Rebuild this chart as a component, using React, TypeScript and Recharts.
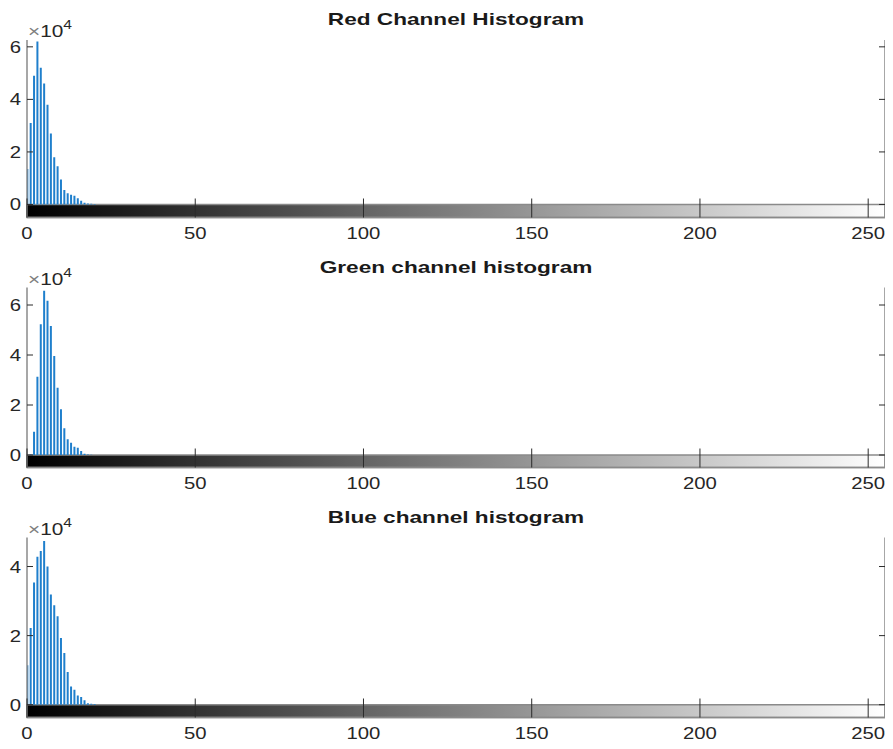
import { Bar, ComposedChart, ReferenceArea, XAxis, YAxis } from 'recharts';

// intensity bins that hold any pixels (everything above bin 20 is empty)
const bins = [0, 1, 2, 3, 4, 5, 6, 7, 8, 9, 10, 11, 12, 13, 14, 15, 16, 17, 18, 19, 20];

const redCounts = [
  13500, 31000, 49000, 62000, 52000, 46000, 38000, 27000, 18000, 14500, 9500,
  5500, 4300, 3700, 3300, 2400, 1400, 700, 400, 300, 200,
];
const greenCounts = [
  0, 200, 9300, 31300, 52300, 65700, 61700, 51600, 39600, 26900, 18300,
  10700, 6300, 4900, 3300, 2900, 1600, 500, 200, 100, 0,
];
const blueCounts = [
  11400, 22200, 35400, 42800, 44500, 47400, 40000, 31900, 28800, 25600, 19300,
  15000, 9500, 5300, 4300, 2700, 2200, 1300, 400, 300, 200,
];

const xTicks = [0, 50, 100, 150, 200, 250];
const redYTicks = [0, 20000, 40000, 60000];
const greenYTicks = [0, 20000, 40000, 60000];
const blueYTicks = [0, 20000, 40000];

const FONT = '"Liberation Sans", Arial, Helvetica, sans-serif';
const AXIS_GRAY = '#8a8a8a';
const TICK = '#2b2b2b';
const TEXT = '#262626';
// the figure text is rendered a little wide
const STRETCH = 1.27;

function BottomTick({ x, y, payload }: any) {
  return (
    <g>
      <line x1={x} y1={y} x2={x} y2={y - 19} stroke={TICK} strokeWidth={1} />
      <text
        transform={`translate(${x},${y + 21}) scale(${STRETCH},1)`}
        textAnchor="middle"
        fontSize={16}
        fontFamily={FONT}
        fill={TEXT}
      >
        {payload.value}
      </text>
    </g>
  );
}

function TopTick({ x, y }: any) {
  return <line x1={x} y1={y} x2={x} y2={y + 7} stroke={TICK} strokeWidth={1} />;
}

function LeftTick({ x, y, payload }: any) {
  return (
    <g>
      <line x1={x} y1={y} x2={x + 6} y2={y} stroke={TICK} strokeWidth={1} />
      <text
        transform={`translate(${x - 6},${y + 6}) scale(${STRETCH},1)`}
        textAnchor="end"
        fontSize={16}
        fontFamily={FONT}
        fill={TEXT}
      >
        {payload.value / 10000}
      </text>
    </g>
  );
}

function RightTick({ x, y }: any) {
  return <line x1={x} y1={y} x2={x - 6} y2={y} stroke={TICK} strokeWidth={1} />;
}

interface PanelProps {
  id: string;
  title: string;
  counts: number[];
  yTicks: number[];
  yMin: number;
  yMax: number;
  boxTop: number;
  top: number;
}

function HistPanel({ id, title, counts, yTicks, yMin, yMax, boxTop, top }: PanelProps) {
  const data = bins.map((bin, i) => ({ bin, count: counts[i] }));
  const gradId = `gray-${id}`;

  return (
    <div style={{ position: 'absolute', left: 0, top, width: 893, height: 250 }}>
      <div
        style={{
          position: 'absolute',
          left: 27,
          width: 858,
          top: boxTop - 30,
          textAlign: 'center',
          fontFamily: FONT,
          fontWeight: 'bold',
          fontSize: 17,
          lineHeight: '20px',
          color: '#1a1a1a',
          transform: 'scaleX(1.33)',
          transformOrigin: 'center',
        }}
      >
        {title}
      </div>
      <div
        style={{
          position: 'absolute',
          left: 28,
          top: boxTop - 25,
          fontFamily: FONT,
          fontSize: 16,
          lineHeight: '20px',
          color: TEXT,
          whiteSpace: 'nowrap',
          transform: 'scaleX(1.3)',
          transformOrigin: 'left',
        }}
      >
        <span style={{ color: '#808080' }}>×</span>10
        <sup style={{ fontSize: 12, verticalAlign: 8 }}>4</sup>
      </div>
      <ComposedChart
        width={893}
        height={250}
        data={data}
        margin={{ top: boxTop, right: 0, bottom: 0, left: 0 }}
      >
        <defs>
          <linearGradient id={gradId} x1="0" y1="0" x2="1" y2="0">
            <stop offset="0%" stopColor="#000" />
            <stop offset="100%" stopColor="#fff" />
          </linearGradient>
        </defs>
        <XAxis
          type="number"
          dataKey="bin"
          domain={[0, 255]}
          ticks={xTicks}
          height={32.5}
          tickLine={false}
          tickSize={0}
          tickMargin={0}
          axisLine={{ stroke: AXIS_GRAY, strokeWidth: 1.5 }}
          tick={<BottomTick />}
          allowDataOverflow
        />
        <XAxis
          xAxisId="top"
          orientation="top"
          type="number"
          dataKey="bin"
          domain={[0, 255]}
          ticks={xTicks}
          height={0}
          tickLine={false}
          tickSize={0}
          tickMargin={0}
          axisLine={{ stroke: AXIS_GRAY, strokeWidth: 1.5 }}
          tick={<TopTick />}
          allowDataOverflow
        />
        <YAxis
          type="number"
          domain={[yMin, yMax]}
          ticks={yTicks}
          width={27}
          tickLine={false}
          tickSize={0}
          tickMargin={0}
          axisLine={{ stroke: AXIS_GRAY, strokeWidth: 1.5 }}
          tick={<LeftTick />}
          allowDataOverflow
        />
        <YAxis
          yAxisId="right"
          orientation="right"
          type="number"
          domain={[yMin, yMax]}
          ticks={yTicks}
          width={8}
          tickLine={false}
          tickSize={0}
          tickMargin={0}
          axisLine={{ stroke: AXIS_GRAY, strokeWidth: 1.5 }}
          tick={<RightTick />}
          allowDataOverflow
        />
        <Bar dataKey="count" fill="#1f7fcc" barSize={2} isAnimationActive={false} />
        {/* grayscale strip under the histogram */}
        <ReferenceArea
          x1={0}
          x2={255}
          y1={yMin}
          y2={0}
          fill={`url(#${gradId})`}
          fillOpacity={1}
          stroke={AXIS_GRAY}
          strokeWidth={1.5}
          ifOverflow="visible"
        />
      </ComposedChart>
    </div>
  );
}

export default function App() {
  return (
    <div style={{ position: 'relative', width: 893, height: 749, margin: -8, background: '#fff' }}>
      <HistPanel
        id="red"
        title="Red Channel Histogram"
        counts={redCounts}
        yTicks={redYTicks}
        yMin={-4960}
        yMax={62600}
        boxTop={40}
        top={0}
      />
      <HistPanel
        id="green"
        title="Green channel histogram"
        counts={greenCounts}
        yTicks={greenYTicks}
        yMin={-5000}
        yMax={67000}
        boxTop={37.5}
        top={250}
      />
      <HistPanel
        id="blue"
        title="Blue channel histogram"
        counts={blueCounts}
        yTicks={blueYTicks}
        yMin={-3700}
        yMax={48400}
        boxTop={37.5}
        top={500}
      />
    </div>
  );
}
